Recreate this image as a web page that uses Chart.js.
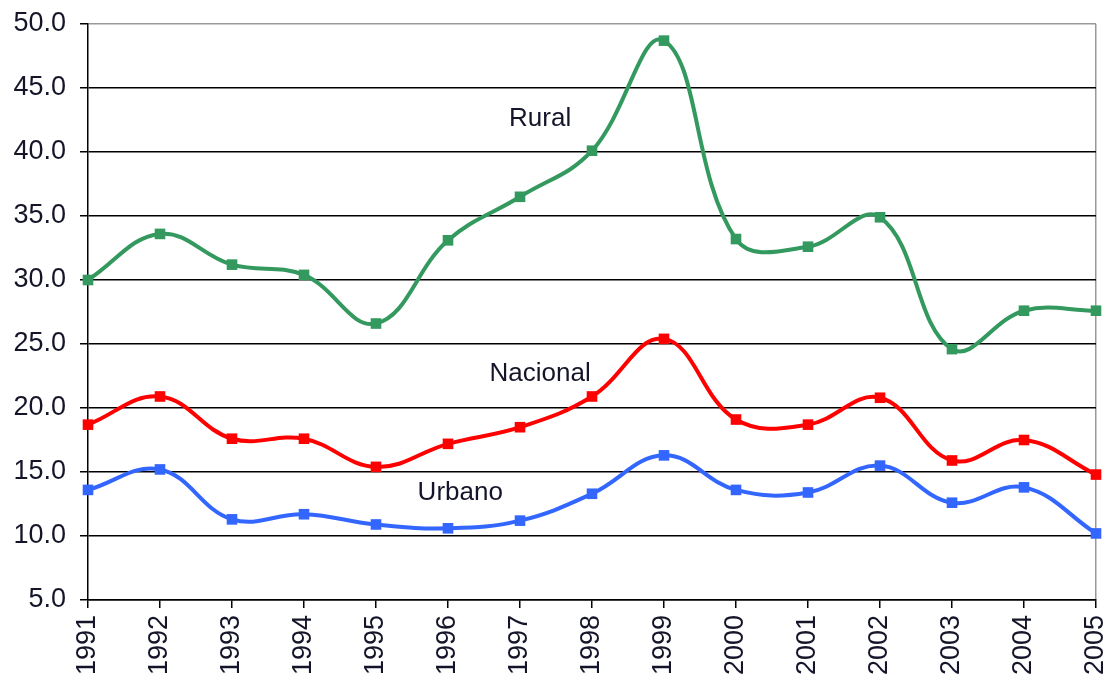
<!DOCTYPE html>
<html>
<head>
<meta charset="utf-8">
<script src="https://cdn.jsdelivr.net/npm/chart.js@4/dist/chart.umd.min.js"></script>
<style>
html,body{margin:0;padding:0;background:#fff;}
#wrap{width:1114px;height:676px;}
</style>
</head>
<body>
<div id="wrap"><canvas id="c" width="1114" height="676"></canvas></div>
<script>
const years = ['1991','1992','1993','1994','1995','1996','1997','1998','1999','2000','2001','2002','2003','2004','2005'];
const rural    = [30.0, 33.6, 31.2, 30.4, 26.6, 33.1, 36.5, 40.1, 48.7, 33.2, 32.6, 34.9, 24.6, 27.6, 27.6];
const nacional = [18.7, 20.9, 17.6, 17.6, 15.4, 17.2, 18.5, 20.9, 25.4, 19.1, 18.7, 20.8, 15.9, 17.5, 14.8];
const urbano   = [13.6, 15.2, 11.3, 11.7, 10.9, 10.6, 11.2, 13.3, 16.3, 13.6, 13.4, 15.5, 12.6, 13.8, 10.2];
const seriesLabels = ['Rural', 'Nacional', 'Urbano'];
const labelAnchors = [ {x: 6.28, y: 42.6}, {x: 6.28, y: 22.7}, {x: 5.17, y: 13.4} ];

const FONT = '"Liberation Sans", Arial, sans-serif';

const textPlugin = {
  id: 'seriesText',
  afterDatasetsDraw(chart) {
    const ctx = chart.ctx;
    const xs = chart.scales.x, ys = chart.scales.y;
    ctx.save();
    ctx.font = '26px ' + FONT;
    ctx.fillStyle = '#15152a';
    ctx.textAlign = 'center';
    ctx.textBaseline = 'middle';
    seriesLabels.forEach((t, i) => {
      ctx.fillText(t, xs.getPixelForValue(labelAnchors[i].x), ys.getPixelForValue(labelAnchors[i].y));
    });
    ctx.restore();
  }
};

function ds(label, data, color) {
  return {
    label, data,
    borderColor: color, backgroundColor: color,
    borderWidth: 4,
    pointStyle: 'rect', pointRadius: 7.5, pointHoverRadius: 7.5,
    pointBorderWidth: 0,
    tension: 0.4,
    clip: false
  };
}

new Chart(document.getElementById('c'), {
  type: 'line',
  data: {
    labels: years,
    datasets: [
      ds(seriesLabels[0], rural, '#33995f'),
      ds(seriesLabels[1], nacional, '#ff0000'),
      ds(seriesLabels[2], urbano, '#3366ff')
    ]
  },
  options: {
    responsive: false,
    animation: false,
    devicePixelRatio: 1,
    layout: { padding: { top: 24, right: 18, left: 0, bottom: 0 } },
    plugins: { legend: { display: false }, tooltip: { enabled: false } },
    scales: {
      x: {
        offset: false,
        grid: {
          color: c => (c.index === years.length - 1 ? '#999' : 'rgba(0,0,0,0)'),
          tickColor: '#000', tickLength: 8, lineWidth: 1.5
        },
        border: { color: '#000', width: 1.5 },
        ticks: { color: '#15152a', font: { size: 27, family: FONT }, minRotation: 90, maxRotation: 90, padding: 7, autoSkip: false },
        afterFit: s => { s.height = 76; s.paddingLeft = 0; s.paddingRight = 0; }
      },
      y: {
        min: 5, max: 50,
        grid: {
          color: c => (c.tick && c.tick.value === 50 ? '#999' : '#000'),
          tickColor: '#000', tickLength: 8, lineWidth: 1.5
        },
        border: { color: '#000', width: 1.5 },
        ticks: { stepSize: 5, color: '#15152a', font: { size: 27, family: FONT }, padding: 14, callback: v => Number(v).toFixed(1) },
        afterFit: s => { s.width = 88; s.paddingTop = 0; s.paddingBottom = 0; }
      }
    }
  },
  plugins: [textPlugin]
});
</script>
</body>
</html>
